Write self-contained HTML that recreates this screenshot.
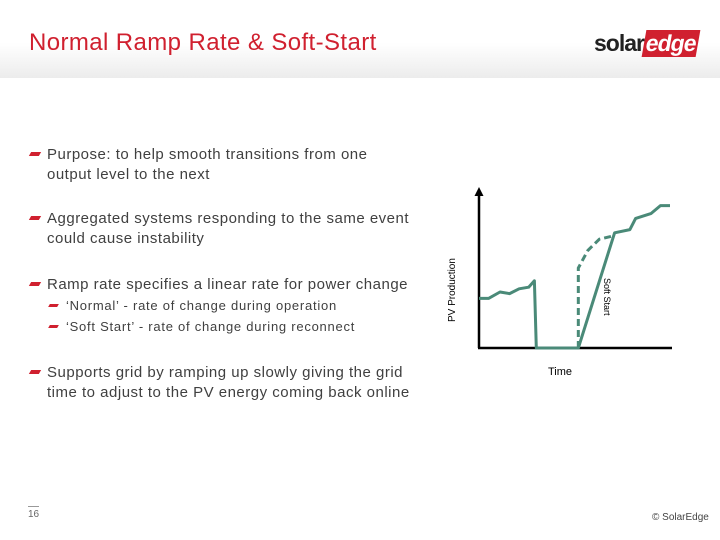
<!DOCTYPE html>
<html><head><meta charset="utf-8"><style>
body{margin:0;width:720px;height:540px;overflow:hidden;background:#fff;font-family:"Liberation Sans",sans-serif;position:relative}
.hdr{position:absolute;left:0;top:0;width:720px;height:78px;background:linear-gradient(#fff 0%,#fff 55%,#ececec 100%)}
.title{position:absolute;left:29px;top:29px;font-size:24px;color:#d0202f;letter-spacing:0.4px}
.logo{position:absolute;left:594px;top:30px;font-size:23px;font-weight:bold;letter-spacing:-1px;color:#222}
.logo span{background:#d0202f;color:#fff;padding:0 2px;transform:skewX(-10deg);display:inline-block}
.b{position:absolute;left:47px;font-size:15px;color:#404040;line-height:19.5px;letter-spacing:0.5px}
.b:before{content:"";position:absolute;left:-17px;top:7px;width:10px;height:4px;background:#d0202f;transform:skewX(-30deg)}
.s{position:absolute;left:66px;font-size:13px;color:#404040;letter-spacing:0.75px}
.s:before{content:"";position:absolute;left:-17px;top:6px;width:9px;height:3px;background:#d0202f;transform:skewX(-30deg)}
.pg{position:absolute;left:28px;top:506px;font-size:10px;color:#666;border-top:1px solid #999;padding-top:2px}
.cp{position:absolute;left:652px;top:512px;font-size:10px;color:#444}
</style></head><body>
<div class="hdr"></div>
<div class="title">Normal Ramp Rate &amp; Soft-Start</div>
<div class="logo">solar<span>edge</span></div>
<div class="b" style="top:145px">Purpose: to help smooth transitions from one<br>output level to the next</div>
<div class="b" style="top:209px">Aggregated systems responding to the same event<br>could cause instability</div>
<div class="b" style="top:275px">Ramp rate specifies a linear rate for power change</div>
<div class="s" style="top:298px">‘Normal’ - rate of change during operation</div>
<div class="s" style="top:319px">‘Soft Start’ - rate of change during reconnect</div>
<div class="b" style="top:363px">Supports grid by ramping up slowly giving the grid<br>time to adjust to the PV energy coming back online</div>
<div class="pg">16</div>
<div class="cp">© SolarEdge</div>
<svg id="chart" width="720" height="540" style="position:absolute;left:0;top:0">
<polygon points="474.5,196 479,187 483.5,196" fill="#000"/>
</svg>
<script>
const solidT=[0,5,11,16,21,26,29,30,52,71,79,82,90,95,100];
const solidV=[31,31,35,34,37,38,42,0,0,72,74,81,84,89,89];
const dashT=[52,52,57,63,70];
const dashV=[0,50,61,68,70];
const X=t=>479+t*1.91, Y=v=>348-v*1.6;
const svg=document.getElementById('chart'),NS='http://www.w3.org/2000/svg';
function mk(tag,a){const e=document.createElementNS(NS,tag);for(const k in a)e.setAttribute(k,a[k]);svg.appendChild(e);return e;}
let e=mk('line',{x1:X(0),y1:Y(0),x2:X(0),y2:195,stroke:'#000','stroke-width':2.5});


e=mk('line',{x1:X(0)-1,y1:Y(0),x2:672,y2:Y(0),stroke:'#000','stroke-width':2.5});


const pts=(T,V)=>T.map((t,i)=>X(t)+','+Y(V[i])).join(' ');
e=mk('polyline',{points:pts(dashT,dashV),fill:'none',stroke:'#4a8a78','stroke-width':3,'stroke-dasharray':'7,4'});


e=mk('polyline',{points:pts(solidT,solidV),fill:'none',stroke:'#4a8a78','stroke-width':3,'stroke-linejoin':'round'});


e=mk('text',{x:0,y:0,'font-size':10,fill:'#000',transform:'translate(455,322) rotate(-90)'});e.textContent='PV Production';


e=mk('text',{x:0,y:0,'font-size':9,fill:'#000',transform:'translate(604,278) rotate(90)'});e.textContent='Soft Start';


e=mk('text',{x:548,y:375,'font-size':11,fill:'#000'});e.textContent='Time';


</script>
</body></html>
